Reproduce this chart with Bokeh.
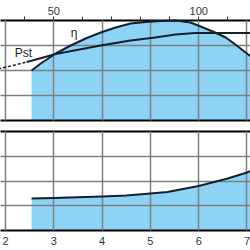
from bokeh.plotting import figure
from bokeh.layouts import column
from bokeh.models import Range1d, LinearAxis, FixedTicker
from bokeh.core.properties import value
from bokeh.embed import file_html
from bokeh.resources import INLINE

# ---- data ----
q_ticks = [2, 3, 4, 5, 6, 7]
q_labels = ["2", "3", "4", "5", "6", "7"]
top_major = [50, 100]
top_minor = [40, 60, 70, 80, 90, 110]
top_per_bottom = 50 / 3

eta_q = [2.54, 2.73, 3.04, 3.35, 3.66, 3.97, 4.28, 4.59, 4.9, 5.21, 5.52, 5.83, 6.04, 6.29, 6.56, 6.76, 6.97, 7.08]
eta_v = [40, 45.6, 53.6, 60, 65.6, 70.4, 74.4, 77.6, 78.8, 79.6, 80, 78.4, 75.2, 71.2, 66.4, 60.8, 54.4, 51.2]

pst_dash_q = [1.85, 2.44]
pst_dash_v = [41.2, 46.8]
pst_q = [2.44, 2.52, 3.04, 3.97, 4.59, 5.1, 5.52, 5.93, 6.5, 7.1]
pst_v = [46.8, 47.6, 53.2, 60, 64, 66.4, 68.8, 70, 70, 70]

npsh_q = [2.54, 3.0, 4.0, 4.5, 5.0, 5.35, 6.0, 6.6, 7.0, 7.1]
npsh_v = [25.9, 26.3, 27.5, 28.3, 29.9, 31.1, 35.9, 42.0, 46.9, 48.5]

label_text = ["Pst", "\u03b7"]
label_q = [2.37, 3.42]
label_v = [54.4, 70.0]

XR = (1.8965, 7.0725)
FILL = "#8dd3f5"
LINE = "#14202c"
GRID = "#7f7f7f"
FONT = "Liberation Sans"


def base(height, top, bottom):
    p = figure(width=250, height=height, x_range=Range1d(*XR), y_range=Range1d(0, 80),
               output_backend="svg", toolbar_location=None,
               x_axis_location=None, y_axis_location=None,
               min_border_left=0, min_border_right=0,
               min_border_top=top, min_border_bottom=bottom,
               outline_line_color=None, background_fill_color="white")
    p.xgrid.ticker = FixedTicker(ticks=q_ticks)
    p.ygrid.ticker = FixedTicker(ticks=[20, 40, 60])
    p.grid.grid_line_color = GRID
    p.grid.grid_line_width = 1.5
    p.grid.level = "guide"
    return p


def border_axis(p, where, **kw):
    ax = LinearAxis(ticker=FixedTicker(ticks=[]), axis_line_width=2, axis_line_color="black",
                    major_tick_out=0, major_tick_in=0, minor_tick_out=0, minor_tick_in=0,
                    major_label_text_font_size="0px", **kw)
    p.add_layout(ax, where)
    return ax


# ---- top panel ----
p1 = base(130, 20, 10)
p1.extra_x_ranges = {"top": Range1d(XR[0] * top_per_bottom, XR[1] * top_per_bottom)}
ax_top = LinearAxis(x_range_name="top",
                    ticker=FixedTicker(ticks=top_major, minor_ticks=top_minor),
                    axis_line_width=2, axis_line_color="black",
                    major_tick_out=4, major_tick_in=0, minor_tick_out=4, minor_tick_in=0,
                    major_tick_line_color="#333333", minor_tick_line_color="#333333",
                    major_label_text_font=FONT, major_label_text_font_size="11px",
                    major_label_text_color="#333333", major_label_standoff=2)
p1.add_layout(ax_top, "above")
border_axis(p1, "below")

p1.varea(x=eta_q, y1=[0] * len(eta_q), y2=eta_v, fill_color=FILL)
r = p1.line(eta_q, eta_v, line_color=LINE, line_width=2, line_join="round")
r.level = "annotation"
r = p1.line(pst_q, pst_v, line_color=LINE, line_width=2, line_join="round")
r.level = "annotation"
r = p1.line(pst_dash_q, pst_dash_v, line_color=LINE, line_width=1.5, line_dash="3 2")
r.level = "annotation"
p1.text(x=label_q, y=label_v, text=label_text, text_font=value(FONT),
        text_font_size="12px", text_color="#222222", text_align="center",
        text_baseline="middle")

# ---- bottom panel ----
p2 = base(120, 1, 20)
border_axis(p2, "above")
ax_bot = LinearAxis(ticker=FixedTicker(ticks=q_ticks),
                    major_label_overrides={t: s for t, s in zip(q_ticks, q_labels)},
                    axis_line_width=2, axis_line_color="black",
                    major_tick_out=0, major_tick_in=0, minor_tick_out=0, minor_tick_in=0,
                    major_label_text_font=FONT, major_label_text_font_size="11px",
                    major_label_text_color="#333333", major_label_standoff=6)
p2.add_layout(ax_bot, "below")

p2.varea(x=npsh_q, y1=[0] * len(npsh_q), y2=npsh_v, fill_color=FILL)
r = p2.line(npsh_q, npsh_v, line_color=LINE, line_width=2, line_join="round")
r.level = "annotation"

layout = column(p1, p2, spacing=0)
open("out.html", "w").write(file_html(layout, INLINE))
